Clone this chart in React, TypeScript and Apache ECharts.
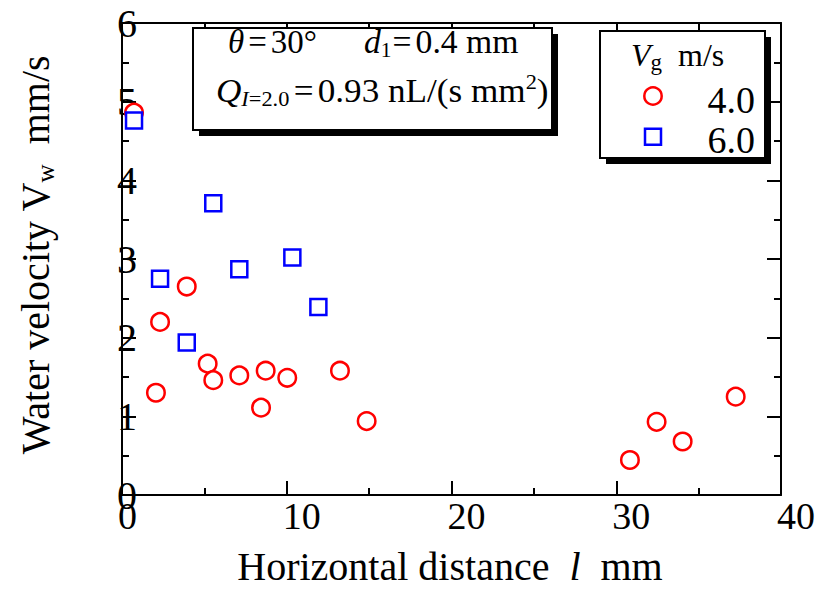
import React, { useEffect, useRef } from "react";
import * as echarts from "echarts";

const FONT = "'Liberation Serif', 'Times New Roman', serif";

// Vg = 4.0 m/s (red circles)
const circleX = [0.73, 2.06, 2.31, 3.93, 5.2, 5.54, 7.12, 8.44, 8.72, 10.03, 13.23, 14.85, 30.83, 32.45, 34.03, 37.25];
const circleY = [4.86, 1.3, 2.2, 2.65, 1.67, 1.46, 1.52, 1.11, 1.58, 1.49, 1.58, 0.94, 0.445, 0.93, 0.68, 1.25];

// Vg = 6.0 m/s (blue squares)
const squareX = [0.73, 2.31, 3.93, 5.54, 7.12, 10.34, 11.92];
const squareY = [4.76, 2.75, 1.94, 3.71, 2.87, 3.02, 2.39];

const legendLabels = ["4.0", "6.0"];

const xMin = 0, xMax = 40, xInterval = 10;
const yMin = 0, yMax = 6, yInterval = 1;

export default function App() {
  const ref = useRef<HTMLDivElement>(null);

  useEffect(() => {
    if (!ref.current) return;
    const chart = echarts.init(ref.current, null, { renderer: "svg" });

    const axisCommon = {
      type: "value" as const,
      axisLine: { show: true, onZero: false, lineStyle: { color: "#000", width: 2 } },
      axisTick: { show: true, inside: true, length: 14, lineStyle: { color: "#000", width: 2 } },
      minorTick: { show: true, splitNumber: 2, length: 7, lineStyle: { color: "#000", width: 2 } },
      splitLine: { show: false },
      minorSplitLine: { show: false },
    };

    const n = { fontSize: 33, fontFamily: FONT, color: "#000", lineHeight: 38 };
    const ni = { ...n, fontStyle: "italic" };
    const eq = { ...n, padding: [0, 4, 0, 4] };
    const sub = { fontSize: 21, fontFamily: FONT, color: "#000", verticalAlign: "bottom", lineHeight: 21 };
    const subi = { ...sub, fontStyle: "italic" };
    const sup = { fontSize: 21, fontFamily: FONT, color: "#000", verticalAlign: "top", lineHeight: 21 };

    chart.setOption({
      animation: false,
      backgroundColor: "#fff",
      grid: { left: 122, top: 23, right: 45, bottom: 95 },
      xAxis: [
        {
          ...axisCommon,
          min: xMin, max: xMax, interval: xInterval, position: "bottom",
          axisLabel: { color: "#000", fontFamily: FONT, fontSize: 38, align: "left", margin: 2, padding: [0, 0, 0, -4] },
        },
        {
          ...axisCommon,
          min: xMin, max: xMax, interval: xInterval, position: "top",
          axisLabel: { show: false },
        },
      ],
      yAxis: [
        {
          ...axisCommon,
          min: yMin, max: yMax, interval: yInterval, position: "left",
          axisLabel: { color: "#000", fontFamily: FONT, fontSize: 40, align: "center", margin: -5 },
        },
        {
          ...axisCommon,
          min: yMin, max: yMax, interval: yInterval, position: "right",
          axisLabel: { show: false },
        },
      ],
      series: [
        {
          type: "scatter",
          xAxisIndex: 0, yAxisIndex: 0,
          data: circleX.map((x, i) => [x, circleY[i]]),
          symbol: "circle",
          symbolSize: 17.5,
          itemStyle: { color: "#fff", borderColor: "#ff0000", borderWidth: 2.5, opacity: 1 },
          z: 2,
        },
        {
          type: "scatter",
          xAxisIndex: 0, yAxisIndex: 0,
          data: squareX.map((x, i) => [x, squareY[i]]),
          symbol: "rect",
          symbolSize: 16,
          itemStyle: { color: "#fff", borderColor: "#0000ff", borderWidth: 2.5, opacity: 1 },
          z: 3,
        },
      ],
      graphic: [
        // Y axis title
        {
          type: "text", x: 35, y: 255, rotation: Math.PI / 2,
          style: {
            text: "{n|Water velocity V}{s|w}{n|  mm/s}",
            align: "center", verticalAlign: "middle",
            rich: {
              n: { fontSize: 40, fontFamily: FONT, color: "#000", lineHeight: 46 },
              s: { fontSize: 25, fontFamily: FONT, color: "#000", verticalAlign: "bottom", lineHeight: 25 },
            },
          },
        },
        // X axis title
        {
          type: "text", x: 450, y: 566,
          style: {
            text: "{n|Horizontal distance  }{i|l}{n|  mm}",
            align: "center", verticalAlign: "middle",
            rich: {
              n: { fontSize: 40, fontFamily: FONT, color: "#000" },
              i: { fontSize: 40, fontFamily: FONT, color: "#000", fontStyle: "italic" },
            },
          },
        },
        // annotation box
        { type: "rect", shape: { x: 199, y: 34, width: 359, height: 102 }, style: { fill: "#000" }, z: 10 },
        { type: "rect", shape: { x: 193, y: 28, width: 359, height: 102 }, style: { fill: "#fff", stroke: "#000", lineWidth: 2 }, z: 11 },
        {
          type: "text", x: 228, y: 42, z: 12,
          style: {
            text: "{i|θ}{e|=}{n|30°}",
            align: "left", verticalAlign: "middle",
            rich: { n, i: ni, e: eq },
          },
        },
        {
          type: "text", x: 364, y: 42, z: 12, scaleX: 1.02,
          style: {
            text: "{i|d}{s|1}{e|=}{n|0.4 mm}",
            align: "left", verticalAlign: "middle",
            rich: { n, i: ni, s: sub, e: { ...eq, padding: [0, 4, 0, 1] } },
          },
        },
        {
          type: "text", x: 216, y: 91, z: 12, scaleX: 1.065,
          style: {
            text: "{i|Q}{si|I}{s|=2.0}{e|=}{n|0.93 nL/(s mm}{sup|2}{n|)}",
            align: "left", verticalAlign: "middle",
            rich: { n, i: ni, s: sub, si: subi, sup, e: eq },
          },
        },
        // legend box
        { type: "rect", shape: { x: 606, y: 37, width: 165, height: 127 }, style: { fill: "#000" }, z: 10 },
        { type: "rect", shape: { x: 600, y: 31, width: 165, height: 127 }, style: { fill: "#fff", stroke: "#000", lineWidth: 2 }, z: 11 },
        {
          type: "text", x: 631, y: 55, z: 12,
          style: {
            text: "{i|V}{s|g}{n|  m/s}",
            align: "left", verticalAlign: "middle",
            rich: {
              n: { ...n, fontSize: 32 },
              i: { ...ni, fontSize: 32 },
              s: { ...sub, fontSize: 23, lineHeight: 23 },
            },
          },
        },
        { type: "circle", shape: { cx: 653, cy: 96, r: 8.7 }, style: { fill: "#fff", stroke: "#ff0000", lineWidth: 2.5 }, z: 12 },
        { type: "rect", shape: { x: 645, y: 128.7, width: 16, height: 16 }, style: { fill: "#fff", stroke: "#0000ff", lineWidth: 2.5 }, z: 12 },
        {
          type: "text", x: 755, y: 100, z: 12,
          style: { text: legendLabels[0], align: "right", verticalAlign: "middle", fontSize: 38, fontFamily: FONT, fill: "#000" },
        },
        {
          type: "text", x: 755, y: 140, z: 12,
          style: { text: legendLabels[1], align: "right", verticalAlign: "middle", fontSize: 38, fontFamily: FONT, fill: "#000" },
        },
      ],
    });

    return () => chart.dispose();
  }, []);

  return (
    <div
      ref={ref}
      style={{ position: "fixed", left: 0, top: 0, width: 826, height: 590, background: "#fff" }}
    />
  );
}
